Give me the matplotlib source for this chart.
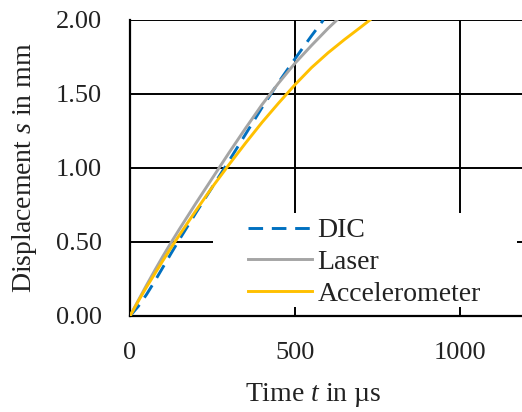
import matplotlib
matplotlib.use("Agg")
import matplotlib.pyplot as plt
from matplotlib.patches import Rectangle

# Data (time in µs, displacement in mm)
t_dic = [0, 25, 50, 75, 100, 125, 150, 200, 250, 300, 350, 400, 450, 500, 550, 586]
s_dic = [0, 0.065, 0.145, 0.235, 0.33, 0.425, 0.518, 0.698, 0.873, 1.048, 1.228, 1.408, 1.578, 1.738, 1.893, 2.0]

t_laser = [0, 25, 50, 75, 100, 125, 150, 200, 250, 300, 350, 400, 450, 500, 550, 600, 627]
s_laser = [0, 0.105, 0.208, 0.308, 0.405, 0.498, 0.588, 0.763, 0.933, 1.103, 1.268, 1.428, 1.573, 1.708, 1.828, 1.943, 2.0]

t_acc = [0, 25, 50, 75, 100, 125, 150, 200, 250, 300, 350, 400, 450, 500, 550, 600, 650, 700, 727]
s_acc = [0, 0.10, 0.195, 0.285, 0.375, 0.463, 0.548, 0.713, 0.873, 1.023, 1.168, 1.308, 1.438, 1.563, 1.678, 1.778, 1.868, 1.953, 2.0]

x_ticks = [0, 500, 1000]
y_ticks = [0.0, 0.5, 1.0, 1.5, 2.0]
y_ticklabels = ["0.00", "0.50", "1.00", "1.50", "2.00"]

plt.rcParams['font.family'] = ['Liberation Serif', 'DejaVu Serif']
plt.rcParams['mathtext.fontset'] = 'custom'
plt.rcParams['mathtext.rm'] = 'Liberation Serif'
plt.rcParams['mathtext.it'] = 'Liberation Serif:italic'

TXT = '#222222'
W, H = 522, 412
fig = plt.figure(figsize=(W / 100, H / 100), dpi=100)
ax = fig.add_axes([130 / W, 1 - 316 / H, 396 / W, 296 / H])

ax.plot(t_dic, s_dic, color='#0070C0', lw=2.1, ls=(0, (5, 3)), label='DIC', zorder=3)
ax.plot(t_laser, s_laser, color='#A5A5A5', lw=2.1, label='Laser', zorder=3)
ax.plot(t_acc, s_acc, color='#FFC000', lw=2.1, label='Accelerometer', zorder=3)

ax.set_xlim(0, 1200)
ax.set_ylim(0, 2.0)
ax.set_xticks(x_ticks)
ax.set_yticks(y_ticks)
ax.set_yticklabels(y_ticklabels)
ax.tick_params(length=0, labelsize=19, colors=TXT)
ax.tick_params(axis='y', pad=20)
ax.tick_params(axis='x', pad=19)
ax.set_axisbelow(True)
ax.grid(True, color='black', lw=1.4)
for side in ['top', 'right']:
    ax.spines[side].set_visible(False)
for side in ['left', 'bottom']:
    ax.spines[side].set_color('black')
    ax.spines[side].set_linewidth(1.6)

ax.set_ylabel('Displacement $\\mathit{s}$ in mm', fontsize=20, color=TXT)
ax.yaxis.label.set_va('center')
ax.yaxis.set_label_coords((25 - 130) / 396, (316 - 168) / 296)
ax.set_xlabel('Time $\\mathit{t}$ in µs', fontsize=20, color=TXT)
ax.xaxis.label.set_va('center')
ax.xaxis.set_label_coords((313 - 130) / 396, -(395 - 316) / 296)

# white box behind legend
ax.add_patch(Rectangle((213 / W, 1 - 307 / H), (517 - 213) / W, (307 - 213) / H,
                       transform=fig.transFigure, facecolor='white', edgecolor='none', zorder=1.5))
leg = ax.legend(loc='upper left', bbox_to_anchor=(248 / W, 1 - 218 / H),
                bbox_transform=fig.transFigure, frameon=False, fontsize=20,
                handlelength=2.3, handletextpad=0.2, labelspacing=0.22, borderpad=0, borderaxespad=0)
for txt in leg.get_texts():
    txt.set_color(TXT)

fig.savefig('out.png', dpi=100)
